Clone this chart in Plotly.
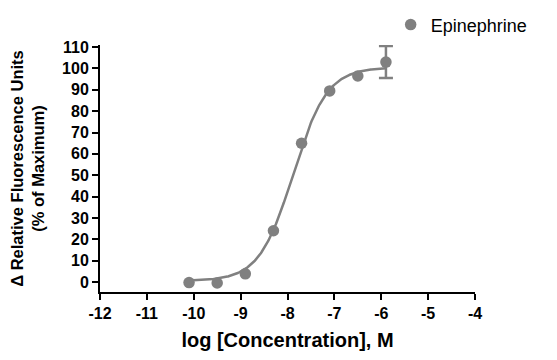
import numpy as np
import plotly.graph_objects as go

# Data
log_conc = [-10.1, -9.5, -8.9, -8.3, -7.7, -7.1, -6.5, -5.9]
response = [-0.3, -0.5, 3.8, 24.0, 65.0, 89.5, 96.5, 103.0]
error_x = [-5.9]
error_y = [103.0]
error_plus = [7.5]

# Fitted 4-parameter logistic curve parameters (read to match drawn curve)
fit_bottom = 0.5
fit_top = 100.5
fit_logec50 = -7.88
fit_hill = 1.2
fit_xmin, fit_xmax = -10.1, -5.9

xs = np.linspace(fit_xmin, fit_xmax, 300)
ys = fit_bottom + (fit_top - fit_bottom) / (1 + 10 ** ((fit_logec50 - xs) * fit_hill))

x_ticks = [-12, -11, -10, -9, -8, -7, -6, -5, -4]
y_ticks = [0, 10, 20, 30, 40, 50, 60, 70, 80, 90, 100, 110]

gray = "#808080"
font_family = "Liberation Sans, Arial, sans-serif"

fig = go.Figure()
fig.add_trace(go.Scatter(x=xs, y=ys, mode="lines",
                         line=dict(color=gray, width=2.5),
                         showlegend=False, hoverinfo="skip"))
fig.add_trace(go.Scatter(x=error_x, y=error_y, mode="markers",
                         marker=dict(size=1, color="rgba(0,0,0,0)"),
                         error_y=dict(type="data", array=error_plus, color=gray,
                                      thickness=2.5, width=7),
                         showlegend=False, hoverinfo="skip"))
fig.add_trace(go.Scatter(x=log_conc, y=response, mode="markers",
                         name="Epinephrine",
                         marker=dict(size=11.5, color=gray)))

fig.update_layout(
    width=557, height=360,
    margin=dict(l=92, r=90, t=37, b=76, autoexpand=False),
    paper_bgcolor="white", plot_bgcolor="white",
    font=dict(family=font_family, color="black"),
    legend=dict(x=0.687, y=0.953, xanchor="left", yanchor="middle",
                xref="container", yref="container",
                font=dict(size=18, family=font_family, color="black"),
                bgcolor="rgba(0,0,0,0)", itemsizing="trace",
                itemwidth=30),
    xaxis=dict(range=[-12, -4], tickmode="array", tickvals=x_ticks,
               ticktext=[str(v) for v in x_ticks],
               showgrid=False, zeroline=False, showline=True,
               linecolor="black", linewidth=2, ticks="outside",
               ticklen=6, tickwidth=2, tickcolor="black",
               tickfont=dict(size=16, family=font_family, weight="bold"),
               title=dict(text="log [Concentration], M",
                          font=dict(size=20, family=font_family, weight="bold"),
                          standoff=12)),
    yaxis=dict(range=[-4.7, 111], tickmode="array", tickvals=y_ticks,
               ticktext=[str(v) for v in y_ticks],
               showgrid=False, zeroline=False, showline=True,
               linecolor="black", linewidth=2, ticks="outside",
               ticklen=6, tickwidth=2, tickcolor="black",
               tickfont=dict(size=16, family=font_family, weight="bold"),
               title=dict(text="Δ Relative Fluorescence Units<br>(% of Maximum)",
                          font=dict(size=16.5, family=font_family, weight="bold"),
                          standoff=13)),
)

fig.write_html("out.html")
